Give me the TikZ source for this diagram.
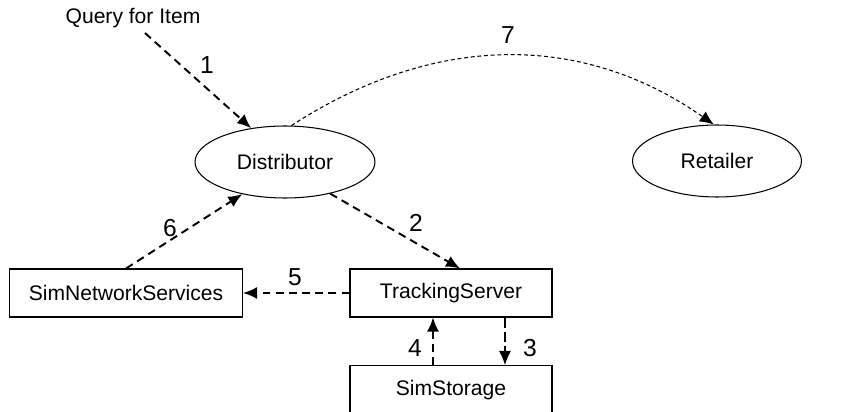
\documentclass[tikz,border=0pt]{standalone}
\usepackage{fontspec}
\setmainfont{Liberation Sans}
\usetikzlibrary{shapes.geometric,arrows.meta}

\tikzset{
	party/.style={draw, ellipse, line width=0.6pt, minimum width=3.6cm, minimum height=1.44cm, inner sep=0pt},
	unit/.style={draw, rectangle, line width=0.6pt, minimum height=0.96cm, inner sep=0pt},
	msg/.style={->, >={Latex[length=2.8mm,width=2.4mm]}, line width=1.1pt, dash pattern=on 4.5pt off 3pt},
	fine/.style={->, >={Latex[length=2.8mm,width=2.4mm]}, line width=0.6pt, dash pattern=on 2.2pt off 1.6pt},
	thin/.style={->, >={Latex[length=2.8mm,width=2.4mm]}, line width=0.6pt, dash pattern=on 6pt off 2pt},
	num/.style={font=\fontsize{14}{16}\selectfont, inner sep=0pt}
}

\begin{document}
\begin{tikzpicture}[x=0.02cm, y=-0.02cm, font=\fontsize{12}{14}\selectfont]
	\useasboundingbox (0,0) rectangle (867,412);

	\node (qry) at (133,18) {Query for Item};
	\coordinate (qstart) at (145,33);

	\node[party] (dist) at (285,162) {Distributor};
	\node[party, minimum width=3.38cm] (ret) at (717,161) {Retailer};

	\node[unit, minimum width=4.66cm] (sns) at (126,293) {SimNetworkServices};
	\node[unit, minimum width=4.04cm] (ts) at (451,293) {TrackingServer};
	\node[unit, minimum width=4.04cm, minimum height=0.98cm] (ss) at (451,390) {SimStorage};

	% messages
	\draw[msg] (qstart) -- (dist.135);
	\draw[msg] (dist.-35) -- ([xshift=0.18cm]ts.north);
	\draw[thin] ([xshift=1.08cm]ts.south) -- ([xshift=1.08cm]ss.north);
	\draw[msg] ([xshift=-0.36cm]ss.north) -- ([xshift=-0.36cm]ts.south);
	\draw[msg] (ts.west) -- (sns.east);
	\draw[msg] (sns.north) -- (dist.217);
	\draw[fine] (dist.80) to[out=33, in=145] (ret.95);

	\node[num] (n1) at (207,65) {1};
	\node[num] (n2) at (416,223) {2};
	\node[num] (n3) at (530,348) {3};
	\node[num] (n4) at (415,348) {4};
	\node[num] (n5) at (295,277) {5};
	\node[num] (n6) at (170,228) {6};
	\node[num] (n7) at (508,35) {7};
\end{tikzpicture}
\end{document}
